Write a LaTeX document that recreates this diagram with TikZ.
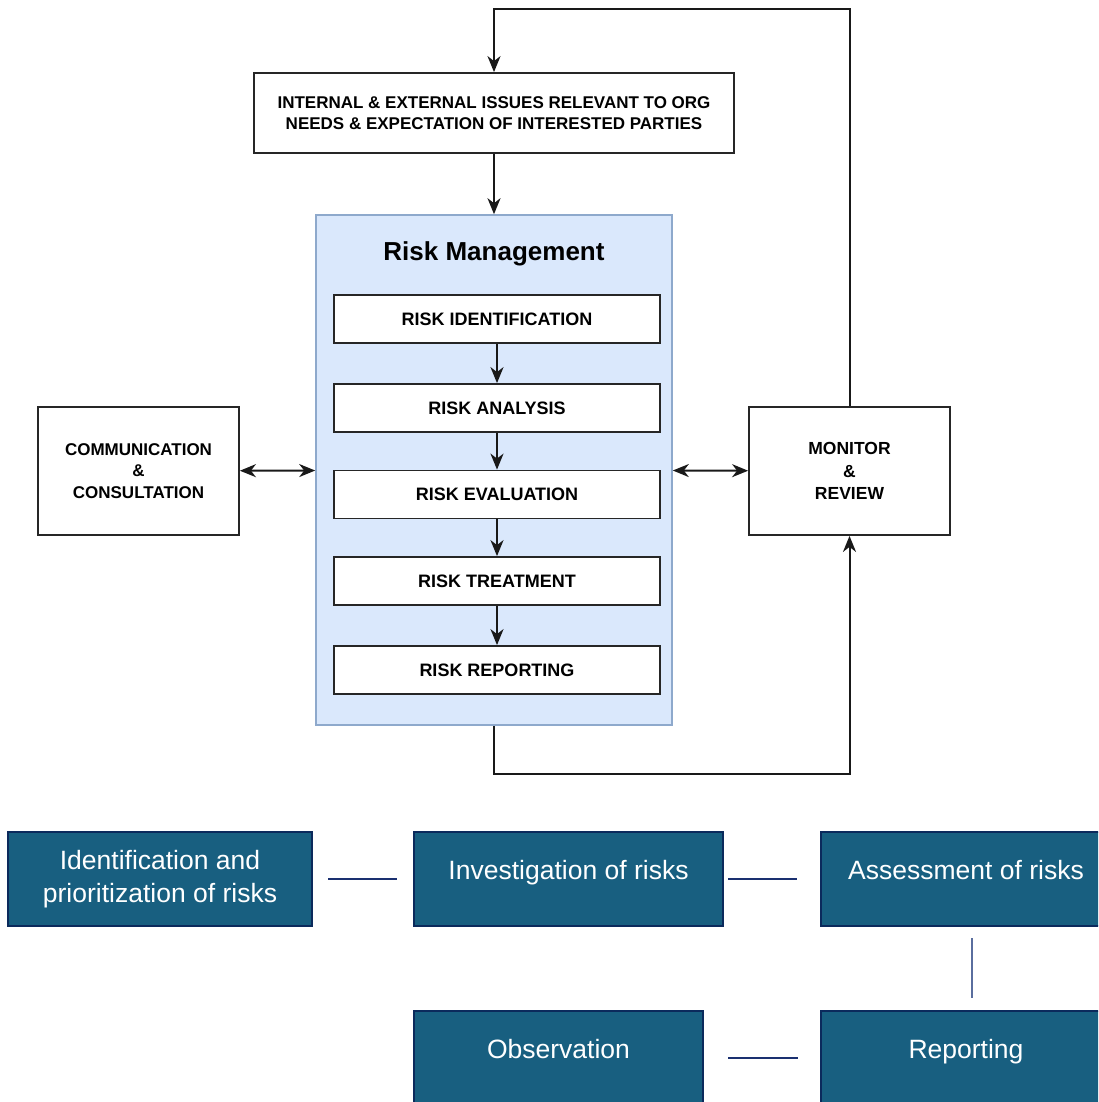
\documentclass[tikz,border=0pt]{standalone}
\usepackage{fontspec}
\setmainfont{Liberation Sans}
\definecolor{rmblue}{HTML}{DAE8FC}
\definecolor{rmedge}{HTML}{8EA9CC}
\definecolor{petrol}{HTML}{185F80}
\definecolor{navy}{HTML}{0B2A5C}
\definecolor{linkblue}{HTML}{1A3070}
\definecolor{linkgrey}{HTML}{5A6E9E}
\usetikzlibrary{calc, positioning, arrows.meta}

\tikzset{
  box/.style={draw=black!85, line width=1.8pt, fill=white, align=center,
    font=\bfseries\fontsize{17}{21.5}\selectfont},
  stepbox/.style={box, minimum width=326pt, minimum height=48pt,
    font=\bfseries\fontsize{18}{22}\selectfont},
  tip/.tip={Stealth[length=16pt, width=13pt, inset=5pt]},
  flow/.style={draw=black!90, line width=2pt, -tip},
  twoway/.style={flow, tip-tip},
  phase/.style={draw=navy, line width=2.2pt, fill=petrol, text=white, align=center,
    minimum height=94pt, font=\fontsize{26.5}{33}\selectfont},
  phasetop/.style={phase, text height=20pt, text depth=20pt},
  link/.style={draw=linkblue, line width=1.5pt}
}

\begin{document}
\begin{tikzpicture}[x=1pt, y=-1pt]
  \useasboundingbox (0,0) rectangle (1098,1102);
  \clip (0,0) rectangle (1098,1102);

  % Risk management block
  \node[draw=rmedge, line width=1.6pt, fill=rmblue, minimum width=356pt, minimum height=510pt]
    (rm) at (494,470) {};
  \node[font=\bfseries\fontsize{26}{30}\selectfont] (rmtitle) at (494,254) {Risk Management};

  \node[stepbox] (ident) at (497,319) {RISK IDENTIFICATION};
  \node[stepbox] (anal)  at (497,408) {RISK ANALYSIS};
  \node[stepbox] (eval)  at (497,494.5) {RISK EVALUATION};
  \node[stepbox] (treat) at (497,581) {RISK TREATMENT};
  \node[stepbox] (repo)  at (497,670) {RISK REPORTING};

  \draw[flow] (ident) -- (anal);
  \draw[flow] (anal) -- (eval);
  \draw[flow] (eval) -- (treat);
  \draw[flow] (treat) -- (repo);

  % Context, communication, monitoring
  \node[box, minimum width=480pt, minimum height=80pt] (issues) at (494,113)
    {INTERNAL \& EXTERNAL ISSUES RELEVANT TO ORG\\NEEDS \& EXPECTATION OF INTERESTED PARTIES};
  \node[box, minimum width=201pt, minimum height=128pt] (comm) at (138.5,471)
    {COMMUNICATION\\\&\\CONSULTATION};
  \node[box, minimum width=201pt, minimum height=128pt, font=\bfseries\fontsize{17.5}{22.5}\selectfont]
    (mon) at (849.5,471) {MONITOR\\\&\\REVIEW};

  \draw[flow] (issues) -- (rm);
  \draw[twoway] (comm) -- (rm);
  \draw[twoway] (rm) -- (mon);
  \draw[flow] (mon.north) |- ([yshift=63pt]issues.north) -- (issues.north);
  \draw[flow] (rm.south) -- ([yshift=-48pt]rm.south) -| (mon.south);

  % Process phases
  \node[phase, minimum width=304pt] (prio) at (160,879)
    {Identification and\\prioritization of risks};
  \node[phasetop, minimum width=309pt] (invest) at (568.5,879) {Investigation of risks};
  \node[phasetop, minimum width=290pt] (assess) at (966,879) {Assessment of risks};
  \node[phasetop, minimum width=289pt] (observ) at (558.5,1058) {Observation};
  \node[phasetop, minimum width=290pt] (report) at (966,1058) {Reporting};

  \draw[link, shorten <=15pt, shorten >=16pt] (prio) -- (invest);
  \draw[link, shorten <=4pt, shorten >=23pt] (invest) -- (assess);
  \draw[link, draw=linkgrey, shorten <=11pt, shorten >=12pt]
    ([xshift=6pt]assess.south) -- ([xshift=6pt]report.north);
  \draw[link, shorten <=24pt, shorten >=22pt] (observ) -- (report);
\end{tikzpicture}
\end{document}
